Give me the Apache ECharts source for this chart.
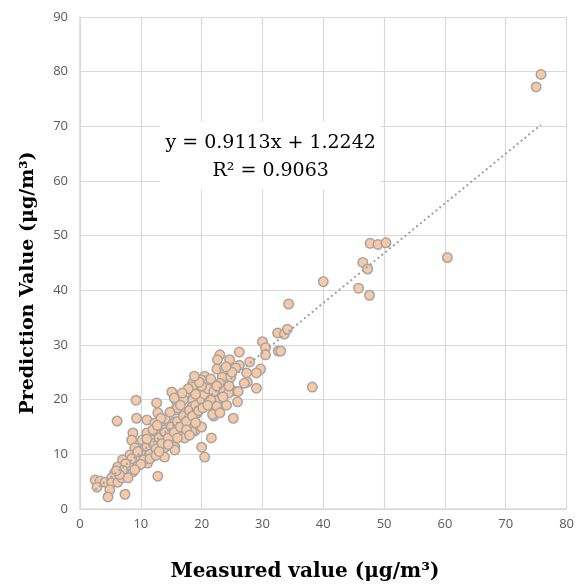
<!DOCTYPE html>
<html><head><meta charset="utf-8">
<script src="https://cdn.jsdelivr.net/npm/echarts@6/dist/echarts.min.js"></script>
<style>html,body{margin:0;padding:0;background:#fff}#c{width:577px;height:586px}</style>
</head><body><div id="c"></div>
<script>
const measured = [
75.0,75.8,60.4,47.7,49.0,50.3,46.5,47.3,47.6,45.8,40.0,38.2,34.3,32.5,33.6,34.1,30.0,30.5,30.5,32.6,33.0,
26.2,23.0,22.6,24.6,27.9,26.2,22.5,23.8,25.6,29.7,29.0,27.4,23.4,24.8,20.5,20.0,18.5,18.5,21.0,21.8,27.5,29.0,
22.1,23.6,25.2,24.4,20.3,18.5,22.5,25.9,24.1,22.3,22.0,25.2,21.6,20.0,20.5,18.9,16.7,
15.1,9.2,12.6,6.1,9.3,11.0,12.8,18.4,15.9,18.5,16.9,18.4,19.3,15.6,13.9,12.3,15.6,17.2,18.5,20.0,18.4,17.2,15.6,13.9,12.3,11.0,8.7,
8.5,10.2,11.8,13.4,15.1,15.6,13.9,12.3,10.7,9.0,8.2,9.8,11.8,13.9,15.6,7.0,8.7,10.7,6.2,7.9,9.5,11.1,5.7,7.4,8.7,12.8,5.2,2.5,3.3,4.1,2.8,5.2,6.2,4.9,4.6,7.4,6.9,7.9,
10.0,10.5,11.0,11.5,12.0,12.5,13.0,13.5,14.0,14.5,15.0,15.5,16.0,16.5,17.0,17.5,18.0,18.5,19.0,19.5,20.0,20.5,21.0,21.5,22.0,23.0,14.0,16.0,17.0,16.5,19.0,20.0,21.5,22.5,12.0,11.0,
9.0,9.5,8.0,8.5,7.5,7.0,6.5,6.0,10.0,9.0,11.5,12.5,13.0,14.5,16.0,17.5,19.0,18.0,20.2,21.0,23.5,24.5,26.0,27.0,25.0,24.0,22.5,21.8,23.0,19.6,18.8,17.8,16.8,15.5,14.8,13.3,12.7
];
const predicted = [
77.2,79.5,46.0,48.6,48.4,48.7,45.1,43.9,39.1,40.4,41.6,22.3,37.5,32.2,32.0,32.9,30.6,29.5,28.2,28.9,28.9,
28.7,28.2,27.3,27.3,26.9,26.3,25.6,25.6,25.8,25.6,24.9,24.9,24.1,24.1,24.3,23.6,23.0,22.1,22.9,23.0,23.2,22.1,
21.4,21.7,21.6,21.2,21.0,20.3,19.8,19.6,19.0,17.9,17.0,16.6,13.0,11.3,9.5,14.3,13.2,
21.4,19.9,19.4,16.1,16.6,16.3,17.6,22.3,19.6,19.9,17.7,18.7,17.6,18.1,15.9,15.7,15.9,16.3,15.4,15.0,14.1,13.0,14.1,14.5,14.1,13.9,13.9,
12.6,12.6,12.6,12.6,12.6,11.3,11.2,11.2,11.2,11.2,9.9,9.5,9.5,9.5,10.8,9.0,8.6,9.0,7.7,7.7,7.9,8.4,6.6,6.6,6.8,6.0,5.7,5.3,5.1,4.9,4.0,4.8,4.9,3.5,2.2,2.7,5.7,5.7,
10.5,9.0,11.5,10.0,12.0,11.0,13.0,12.0,14.0,13.0,15.0,14.0,16.0,15.0,17.0,16.0,18.0,17.0,19.0,18.0,20.0,21.0,22.0,20.0,21.5,23.0,16.5,18.5,20.0,19.0,21.0,22.5,23.8,22.5,14.5,12.8,
9.5,10.5,8.0,9.2,8.3,7.1,6.3,7.0,8.2,7.2,9.2,9.8,10.5,11.8,13.0,14.5,15.8,13.5,18.5,19.0,20.5,22.5,21.5,23.0,25.0,26.0,18.8,17.3,17.6,23.2,24.3,22.0,21.2,20.3,17.7,16.6,15.3
];
const slope = 0.9113, intercept = 1.2242, r2 = 0.9063;
const xTicks = [0,10,20,30,40,50,60,70,80];
const yTicks = [0,10,20,30,40,50,60,70,80,90];
const xTitle = 'Measured value (μg/m³)';
const yTitle = 'Prediction Value (μg/m³)';
const eqLine1 = 'y = 0.9113x + 1.2242';
const eqLine2 = 'R² = 0.9063';

const pts = measured.map((x,i)=>[x,predicted[i]]);
const xMin = Math.min(...measured), xMax = Math.max(...measured);
const trend = [[xMin, slope*xMin+intercept],[xMax, slope*xMax+intercept]];

const chart = echarts.init(document.getElementById('c'), null, {renderer:'canvas'});
const gridCol = '#d9d9d9';
chart.setOption({
  animation:false,
  grid:{left:80,right:9,top:17,bottom:77,containLabel:false},
  xAxis:{type:'value',min:xTicks[0],max:xTicks[xTicks.length-1],interval:10,
    axisLine:{show:true,lineStyle:{color:gridCol,width:1.5}},axisTick:{show:false},
    splitLine:{show:true,lineStyle:{color:gridCol,width:1.2}},
    axisLabel:{color:'#595959',fontFamily:'Open Sans',fontSize:13,margin:9}},
  yAxis:{type:'value',min:yTicks[0],max:yTicks[yTicks.length-1],interval:10,
    axisLine:{show:true,lineStyle:{color:gridCol,width:1.5}},axisTick:{show:false},
    splitLine:{show:true,lineStyle:{color:gridCol,width:1.2}},
    axisLabel:{color:'#595959',fontFamily:'Open Sans',fontSize:13,margin:12}},
  series:[
    {type:'scatter',data:pts,symbol:'circle',symbolSize:9.5,
      itemStyle:{color:'#f8c9a4',borderColor:'#a5a5a5',borderWidth:1.5,opacity:1},z:2},
    {type:'line',data:trend,symbol:'none',silent:true,
      lineStyle:{color:'#a0a0a0',width:2,type:[2,3]},z:3}
  ]
});
const p1 = chart.convertToPixel({gridIndex:0},[13.2,70.9]);
const p2 = chart.convertToPixel({gridIndex:0},[49.5,58.4]);
chart.setOption({
  graphic:[
    {type:'rect',shape:{x:p1[0],y:p1[1],width:p2[0]-p1[0],height:p2[1]-p1[1]},style:{fill:'#fff'},z:10},
    {type:'text',x:(p1[0]+p2[0])/2,y:p1[1]+22,style:{text:eqLine1,fill:'#000',font:'19px "DejaVu Serif"',textAlign:'center',textVerticalAlign:'middle'},z:11},
    {type:'text',x:(p1[0]+p2[0])/2,y:p1[1]+50,style:{text:eqLine2,fill:'#000',font:'19px "DejaVu Serif"',textAlign:'center',textVerticalAlign:'middle'},z:11},
    {type:'text',x:305,y:572,style:{text:xTitle,fill:'#000',font:'bold 20px "DejaVu Serif"',textAlign:'center',textVerticalAlign:'middle'},z:11},
    {type:'text',x:28,y:283,rotation:Math.PI/2,style:{text:yTitle,fill:'#000',font:'bold 19px "DejaVu Serif"',textAlign:'center',textVerticalAlign:'middle'},z:11}
  ]
});
</script></body></html>
